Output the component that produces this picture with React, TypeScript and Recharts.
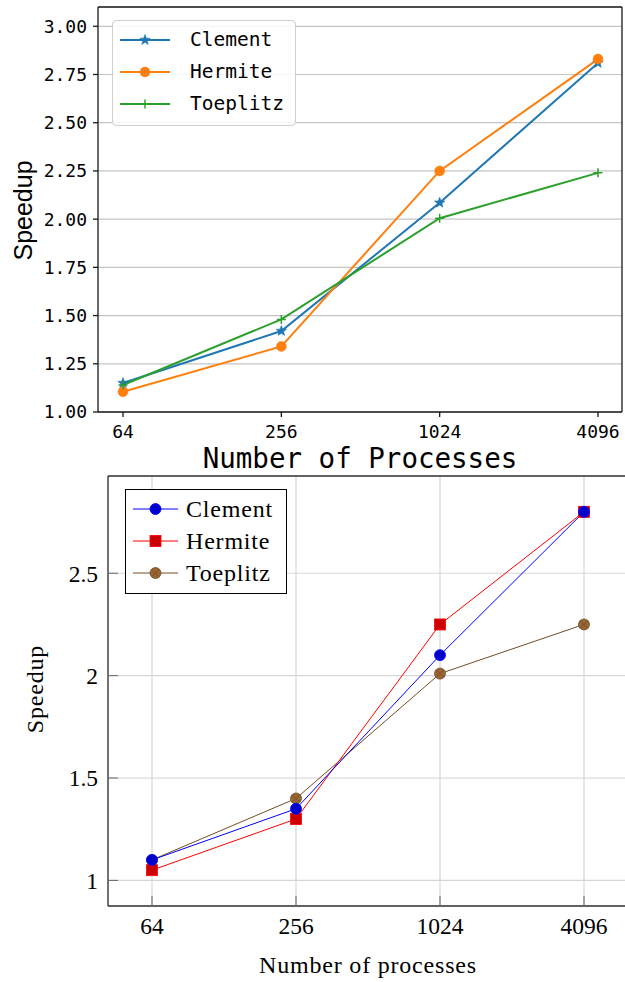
import React from 'react';
import { LineChart, Line, XAxis, YAxis, CartesianGrid, Legend } from 'recharts';

const processes = ['64', '256', '1024', '4096'];
const seriesNames = ['Clement', 'Hermite', 'Toeplitz'];

const topClement = [1.15, 1.42, 2.085, 2.81];
const topHermite = [1.105, 1.34, 2.25, 2.83];
const topToeplitz = [1.14, 1.48, 2.005, 2.24];
const topYTicks = [1.0, 1.25, 1.5, 1.75, 2.0, 2.25, 2.5, 2.75, 3.0];

const bottomClement = [1.1, 1.35, 2.1, 2.8];
const bottomHermite = [1.05, 1.3, 2.25, 2.8];
const bottomToeplitz = [1.1, 1.4, 2.01, 2.25];
const bottomYTicks = [1, 1.5, 2, 2.5];

const topData = processes.map((p, i) => ({
  procs: p,
  Clement: topClement[i],
  Hermite: topHermite[i],
  Toeplitz: topToeplitz[i],
}));

const bottomData = processes.map((p, i) => ({
  procs: p,
  Clement: bottomClement[i],
  Hermite: bottomHermite[i],
  Toeplitz: bottomToeplitz[i],
}));

const topColors = ['#1f77b4', '#ff7f0e', '#2ca02c'];
const bottomLineColors = ['#0000ff', '#ff0000', '#734d26'];

const MONO = '"DejaVu Sans Mono", monospace';
const SERIF = '"Liberation Serif", "Times New Roman", serif';

function starPath(cx: number, cy: number, R: number) {
  const r = R * 0.42;
  let d = '';
  for (let i = 0; i < 10; i++) {
    const ang = -Math.PI / 2 + (i * Math.PI) / 5;
    const rad = i % 2 === 0 ? R : r;
    d += (i === 0 ? 'M' : 'L') + (cx + rad * Math.cos(ang)).toFixed(2) + ',' + (cy + rad * Math.sin(ang)).toFixed(2);
  }
  return d + 'Z';
}

function topMarker(i: number, cx: number, cy: number) {
  if (i === 0) {
    return <path d={starPath(cx, cy, 5.5)} fill={topColors[0]} stroke={topColors[0]} strokeWidth={0.6} />;
  }
  if (i === 1) {
    return <circle cx={cx} cy={cy} r={5} fill={topColors[1]} stroke={topColors[1]} strokeWidth={0.5} />;
  }
  return (
    <path
      d={`M${cx - 4.5},${cy}H${cx + 4.5}M${cx},${cy - 4.5}V${cy + 4.5}`}
      stroke={topColors[2]}
      strokeWidth={1.5}
      fill="none"
    />
  );
}

function bottomMarker(i: number, cx: number, cy: number) {
  if (i === 0) {
    return <circle cx={cx} cy={cy} r={5.5} fill="#0000cc" stroke="#0000ff" strokeWidth={0.8} />;
  }
  if (i === 1) {
    return <rect x={cx - 5.5} y={cy - 5.5} width={11} height={11} fill="#cc0000" stroke="#ff0000" strokeWidth={0.8} />;
  }
  const k = 5.5 * 0.7071;
  return (
    <g>
      <circle cx={cx} cy={cy} r={5.5} fill="#996633" stroke="#734d26" strokeWidth={0.8} />
      <path
        d={`M${cx - k},${cy - k}L${cx + k},${cy + k}M${cx - k},${cy + k}L${cx + k},${cy - k}`}
        stroke="#734d26"
        strokeWidth={0.8}
      />
    </g>
  );
}

const makeDot = (kind: 'top' | 'bottom', i: number) => (props: any) => {
  const { cx, cy, index } = props;
  if (cx == null || cy == null) return <g key={`n-${kind}-${i}-${index}`} />;
  return (
    <g key={`d-${kind}-${i}-${index}`}>{kind === 'top' ? topMarker(i, cx, cy) : bottomMarker(i, cx, cy)}</g>
  );
};

const TopLegend = () => (
  <div
    style={{
      boxSizing: 'border-box',
      width: 184,
      height: 106,
      border: '1px solid #d0d0d0',
      borderRadius: 4,
      background: 'rgba(255,255,255,0.85)',
      paddingTop: 3,
    }}
  >
    {seriesNames.map((name, i) => (
      <div key={name} style={{ display: 'flex', alignItems: 'center', height: 32 }}>
        <svg width={50} height={32} style={{ marginLeft: 7, display: 'block', flex: 'none' }}>
          <line x1={0} y1={16} x2={50} y2={16} stroke={topColors[i]} strokeWidth={2} />
          {topMarker(i, 25, 16)}
        </svg>
        <span style={{ marginLeft: 20, fontFamily: MONO, fontSize: 19.5, color: '#000', lineHeight: '32px' }}>
          {name}
        </span>
      </div>
    ))}
  </div>
);

const BottomLegend = () => (
  <div
    style={{
      boxSizing: 'border-box',
      width: 162,
      height: 105,
      border: '1px solid #000',
      background: '#fff',
      paddingTop: 3,
    }}
  >
    {seriesNames.map((name, i) => (
      <div key={name} style={{ display: 'flex', alignItems: 'center', height: 32 }}>
        <svg width={45} height={32} style={{ marginLeft: 7, display: 'block', flex: 'none' }}>
          <line x1={0} y1={16} x2={45} y2={16} stroke={bottomLineColors[i]} strokeWidth={1} />
          {bottomMarker(i, 22.5, 16)}
        </svg>
        <span
          style={{
            marginLeft: 8,
            fontFamily: SERIF,
            fontSize: 24,
            letterSpacing: 0.8,
            color: '#000',
            lineHeight: '32px',
          }}
        >
          {name}
        </span>
      </div>
    ))}
  </div>
);

const topXLabel = (props: any) => {
  const vb = props.viewBox || {};
  return (
    <text x={vb.x + vb.width / 2} y={vb.y + 56} textAnchor="middle" fontFamily={MONO} fontSize={27.5} fill="#000">
      Number of Processes
    </text>
  );
};

const topYLabel = (props: any) => {
  const vb = props.viewBox || {};
  const x = vb.x + 32;
  const y = vb.y + vb.height / 2 + 1;
  return (
    <text
      x={x}
      y={y}
      transform={`rotate(-90, ${x}, ${y})`}
      textAnchor="middle"
      fontFamily='"Liberation Sans", Arial, sans-serif'
      fontSize={25}
      fill="#000"
    >
      Speedup
    </text>
  );
};

const bottomXLabel = (props: any) => {
  const vb = props.viewBox || {};
  return (
    <text
      x={vb.x + vb.width / 2}
      y={vb.y + 67}
      textAnchor="middle"
      fontFamily={SERIF}
      fontSize={24}
      letterSpacing={0.8}
      fill="#000"
    >
      Number of processes
    </text>
  );
};

const bottomYLabel = (props: any) => {
  const vb = props.viewBox || {};
  const x = vb.x + 43;
  const y = vb.y + vb.height / 2 - 2;
  return (
    <text
      x={x}
      y={y}
      transform={`rotate(-90, ${x}, ${y})`}
      textAnchor="middle"
      fontFamily={SERIF}
      fontSize={24}
      letterSpacing={0.8}
      fill="#000"
    >
      Speedup
    </text>
  );
};

export default function App() {
  const topTick = { fontFamily: MONO, fontSize: 18, fill: '#000' };
  const bottomTick = { fontFamily: SERIF, fontSize: 23.5, fill: '#000' };
  const topSpine = { stroke: '#1a1a1a', strokeWidth: 1.3 };
  const bottomSpine = { stroke: '#333', strokeWidth: 1.3 };
  const bottomTickLine = { stroke: '#666', strokeWidth: 1 };

  return (
    <div style={{ position: 'absolute', left: 0, top: 0, width: 625, height: 982, overflow: 'hidden', background: '#fff' }}>
      <div style={{ position: 'absolute', left: 0, top: 0 }}>
        <LineChart width={625} height={480} data={topData} margin={{ top: 6, right: 2, bottom: 0, left: 0 }}>
          <CartesianGrid vertical={false} stroke="#c4c4c4" strokeWidth={1.2} />
          <XAxis
            dataKey="procs"
            type="category"
            interval={0}
            padding={{ left: 25, right: 24 }}
            height={68}
            tickSize={5}
            tickMargin={8}
            tick={topTick}
            axisLine={topSpine}
            tickLine={topSpine}
            label={{ content: topXLabel }}
          />
          <XAxis
            xAxisId="top"
            orientation="top"
            dataKey="procs"
            type="category"
            interval={0}
            padding={{ left: 25, right: 24 }}
            height={1}
            tick={false}
            tickLine={false}
            axisLine={topSpine}
          />
          <YAxis
            type="number"
            domain={[1, 3.1]}
            ticks={topYTicks}
            interval={0}
            width={98}
            tickSize={5}
            tickMargin={6}
            tick={topTick}
            tickFormatter={(v: number) => v.toFixed(2)}
            axisLine={topSpine}
            tickLine={topSpine}
            label={{ content: topYLabel }}
          />
          <YAxis
            yAxisId="right"
            orientation="right"
            type="number"
            domain={[1, 3.1]}
            width={1}
            tick={false}
            tickLine={false}
            axisLine={topSpine}
          />
          <Line dataKey="Clement" stroke={topColors[0]} strokeWidth={2} dot={makeDot('top', 0)} isAnimationActive={false} />
          <Line dataKey="Hermite" stroke={topColors[1]} strokeWidth={2} dot={makeDot('top', 1)} isAnimationActive={false} />
          <Line dataKey="Toeplitz" stroke={topColors[2]} strokeWidth={2} dot={makeDot('top', 2)} isAnimationActive={false} />
          <Legend
            layout="vertical"
            align="center"
            verticalAlign="middle"
            content={TopLegend}
            wrapperStyle={{ top: 20, left: 112, width: 'auto', height: 'auto' }}
          />
        </LineChart>
      </div>
      <div style={{ position: 'absolute', left: 0, top: 470 }}>
        <LineChart width={631} height={512} data={bottomData} margin={{ top: 5, right: 2, bottom: 0, left: 0 }}>
          <CartesianGrid stroke="#d6d6d6" strokeWidth={1.2} />
          <XAxis
            dataKey="procs"
            type="category"
            interval={0}
            padding={{ left: 44, right: 44 }}
            height={76}
            tickSize={-10}
            tickMargin={21}
            tick={bottomTick}
            axisLine={bottomSpine}
            tickLine={bottomTickLine}
            label={{ content: bottomXLabel }}
          />
          <XAxis
            xAxisId="top"
            orientation="top"
            dataKey="procs"
            type="category"
            interval={0}
            padding={{ left: 44, right: 44 }}
            height={1}
            tickSize={-10}
            tick={false}
            tickLine={bottomTickLine}
            axisLine={bottomSpine}
          />
          <YAxis
            type="number"
            domain={[0.875, 2.975]}
            ticks={bottomYTicks}
            interval={0}
            width={108}
            tickSize={-10}
            tickMargin={20}
            tick={bottomTick}
            tickFormatter={(v: number) => String(v)}
            axisLine={bottomSpine}
            tickLine={bottomTickLine}
            label={{ content: bottomYLabel }}
          />
          <YAxis
            yAxisId="right"
            orientation="right"
            type="number"
            domain={[0.875, 2.975]}
            ticks={bottomYTicks}
            interval={0}
            width={1}
            tickSize={-10}
            tick={false}
            tickLine={bottomTickLine}
            axisLine={bottomSpine}
          />
          <Line dataKey="Toeplitz" stroke={bottomLineColors[2]} strokeWidth={1} dot={makeDot('bottom', 2)} isAnimationActive={false} />
          <Line dataKey="Hermite" stroke={bottomLineColors[1]} strokeWidth={1} dot={makeDot('bottom', 1)} isAnimationActive={false} />
          <Line dataKey="Clement" stroke={bottomLineColors[0]} strokeWidth={1} dot={makeDot('bottom', 0)} isAnimationActive={false} />
          <Legend
            layout="vertical"
            align="center"
            verticalAlign="middle"
            content={BottomLegend}
            wrapperStyle={{ top: 19, left: 125, width: 'auto', height: 'auto' }}
          />
        </LineChart>
      </div>
    </div>
  );
}
